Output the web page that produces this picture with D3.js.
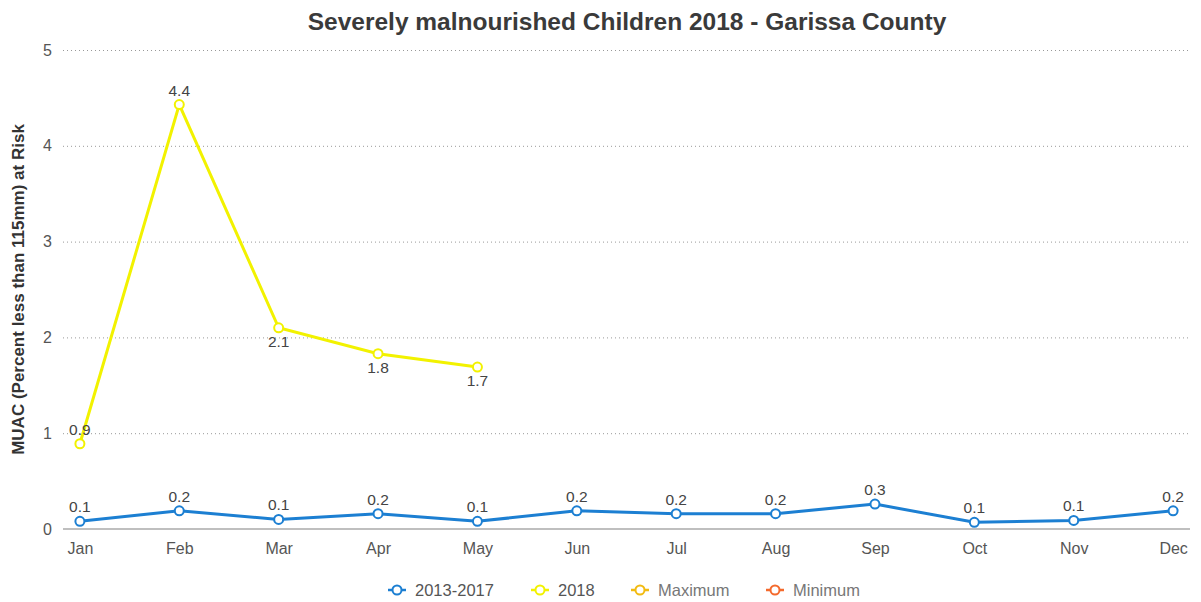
<!DOCTYPE html>
<html lang="en">
<head>
    <meta charset="UTF-8">
    <script src="https://d3js.org/d3.v7.min.js"></script>
    <title>Severely malnourished Children 2018 - Garissa County</title>
    <style>
        body{
            margin: 0;
            background: #fff;
        }
        text{
            font-family: "Liberation Sans", Arial, Helvetica, sans-serif;
        }
    </style>
</head>
<body>
    <div id="app"></div>
    <script>
        const svg_width = 1201;
        const svg_height = 602;

        const months = ['Jan', 'Feb', 'Mar', 'Apr', 'May', 'Jun', 'Jul', 'Aug', 'Sep', 'Oct', 'Nov', 'Dec'];
        const avg_2013_2017 = [0.08, 0.19, 0.10, 0.16, 0.08, 0.19, 0.16, 0.16, 0.26, 0.07, 0.09, 0.19];
        const year_2018 = [0.89, 4.43, 2.10, 1.83, 1.69];
        const y_ticks = [0, 1, 2, 3, 4, 5];
        const series_names = ['2013-2017', '2018', 'Maximum', 'Minimum'];
        const series_colors = ['#1c7fd2', '#f2f200', '#f2bb12', '#f46a2d'];

        const plot_left = 63, plot_right = 1190, plot_top = 50, plot_bottom = 529;

        var svg = d3.select('#app')
            .append('svg')
            .attr('width', svg_width)
            .attr('height', svg_height)

        var x_scale = d3.scalePoint().domain(months).range([plot_left, plot_right]).padding(0.17)
        var y_scale = d3.scaleLinear().domain([0, 5]).range([plot_bottom, plot_top])

        // title
        svg.append('text')
            .attr('x', 627)
            .attr('y', 30)
            .attr('text-anchor', 'middle')
            .attr('font-size', 24.5)
            .attr('font-weight', 'bold')
            .attr('fill', '#3a3a3a')
            .text('Severely malnourished Children 2018 - Garissa County')

        // y axis title
        svg.append('text')
            .attr('transform', 'translate(24,' + ((plot_top + plot_bottom) / 2) + ') rotate(-90)')
            .attr('text-anchor', 'middle')
            .attr('font-size', 17)
            .attr('font-weight', 'bold')
            .attr('fill', '#333')
            .text('MUAC (Percent less than 115mm) at Risk')

        // grid
        var y_axis = d3.axisLeft(y_scale).tickValues(y_ticks).tickFormat(d3.format('d'))
            .tickSize(-(plot_right - plot_left)).tickPadding(11)
        var gy = svg.append('g')
            .attr('transform', 'translate(' + plot_left + ',0)')
            .call(y_axis)
        gy.select('.domain').remove()
        gy.selectAll('line')
            .attr('stroke', function (d) { return d === 0 ? 'none' : '#999' })
            .attr('stroke-dasharray', '1,3')
        gy.selectAll('text')
            .attr('font-size', 16)
            .attr('fill', '#555')
            .attr('font-family', '"Liberation Sans", Arial, sans-serif')

        // x axis
        var x_axis = d3.axisBottom(x_scale).tickSize(0).tickPadding(14)
        var gx = svg.append('g')
            .attr('transform', 'translate(0,' + plot_bottom + ')')
            .call(x_axis)
        gx.select('.domain').attr('stroke', '#aaa').attr('stroke-width', 1.5)
            .attr('d', 'M' + plot_left + ',0H' + plot_right)
        gx.selectAll('text')
            .attr('font-size', 16)
            .attr('fill', '#555')
            .attr('font-family', '"Liberation Sans", Arial, sans-serif')

        var line = d3.line()
            .x(function (d, i) { return x_scale(months[i]) })
            .y(function (d) { return y_scale(d) })

        function drawSeries(data, color, labelBelow) {
            var g = svg.append('g')
            g.append('path')
                .datum(data)
                .attr('d', line)
                .attr('fill', 'none')
                .attr('stroke', color)
                .attr('stroke-width', 3)
            g.selectAll('circle')
                .data(data)
                .enter()
                .append('circle')
                .attr('cx', function (d, i) { return x_scale(months[i]) })
                .attr('cy', function (d) { return y_scale(d) })
                .attr('r', 4.5)
                .attr('fill', '#fff')
                .attr('stroke', color)
                .attr('stroke-width', 2)
            g.selectAll('text')
                .data(data)
                .enter()
                .append('text')
                .attr('x', function (d, i) { return x_scale(months[i]) })
                .attr('y', function (d, i) { return y_scale(d) + (labelBelow[i] ? 19 : -9) })
                .attr('text-anchor', 'middle')
                .attr('font-size', 15.5)
                .attr('fill', '#444')
                .text(function (d) { return d.toFixed(1) })
        }

        drawSeries(avg_2013_2017, series_colors[0], avg_2013_2017.map(function () { return false }))
        drawSeries(year_2018, series_colors[1], [false, false, true, true, true])

        // legend
        var legend_x = [397, 540, 640, 775];
        var lg = svg.append('g')
            .selectAll('g')
            .data(series_names)
            .enter()
            .append('g')
            .attr('transform', function (d, i) { return 'translate(' + legend_x[i] + ',590)' })
        lg.append('line')
            .attr('x1', -9).attr('x2', 9)
            .attr('stroke', function (d, i) { return series_colors[i] })
            .attr('stroke-width', 2.5)
        lg.append('circle')
            .attr('r', 4.5)
            .attr('fill', '#fff')
            .attr('stroke', function (d, i) { return series_colors[i] })
            .attr('stroke-width', 2)
        lg.append('text')
            .attr('x', 18)
            .attr('y', 6)
            .attr('font-size', 16.5)
            .attr('fill', function (d, i) { return i < 2 ? '#555' : '#777' })
            .text(function (d) { return d })
    </script>
</body>
</html>
